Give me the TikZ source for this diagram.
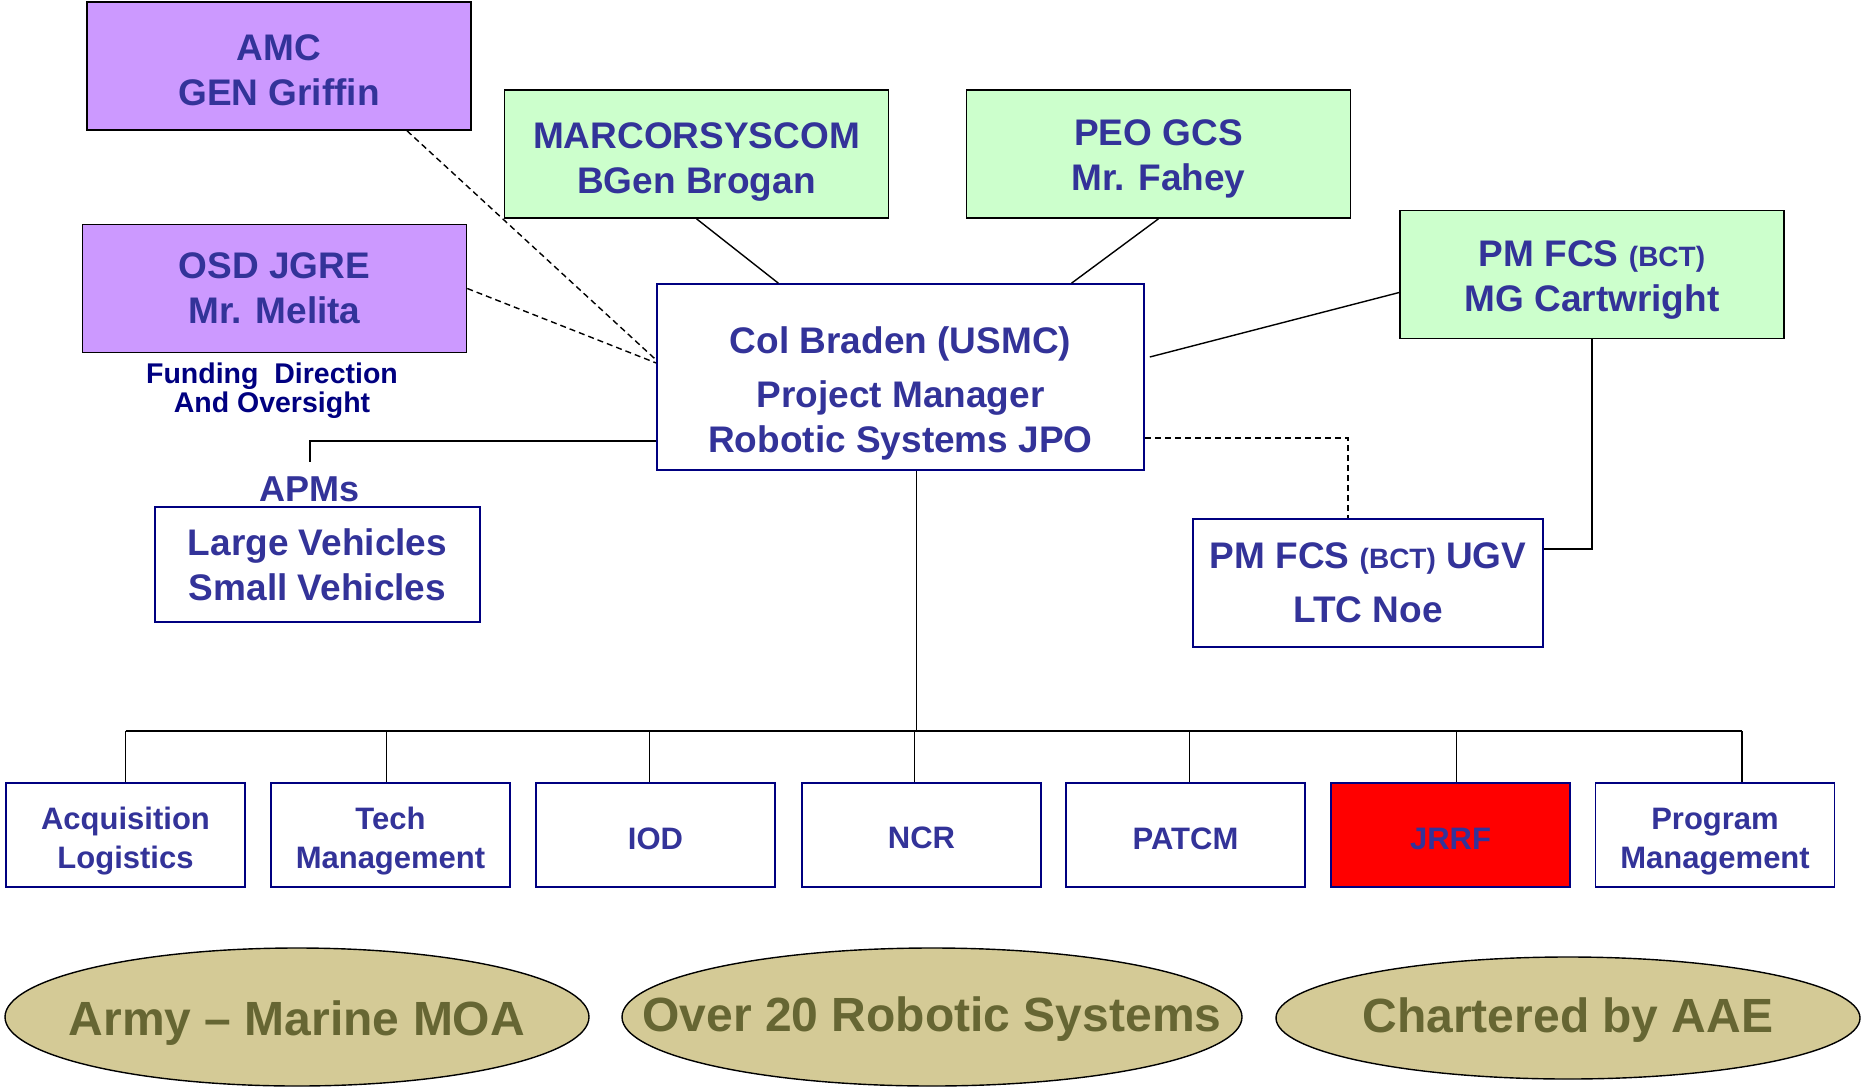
\documentclass[tikz,border=0pt]{standalone}
\usepackage{fontspec}
\setmainfont{Liberation Sans}
\usetikzlibrary{shapes.geometric,calc}
\definecolor{txtblue}{HTML}{333399}
\definecolor{navyline}{HTML}{000080}
\definecolor{boxpurple}{HTML}{CC99FF}
\definecolor{boxgreen}{HTML}{CCFFCC}
\definecolor{ovalfill}{HTML}{D4CA96}
\definecolor{ovaltext}{HTML}{666633}
\tikzset{box/.style={draw, line width=1.6pt, align=center, inner sep=0pt, text=txtblue,
      font=\bfseries\fontsize{37}{45}\selectfont},
  purplebox/.style={box, fill=boxpurple, minimum width=384pt, minimum height=128pt},
  greenbox/.style={box, fill=boxgreen, minimum width=384pt, minimum height=128pt},
  whitebox/.style={box, draw=navyline, fill=white},
  unitbox/.style={whitebox, minimum width=239pt, minimum height=104pt,
      font=\bfseries\fontsize{31}{39}\selectfont},
  oval/.style={ellipse, draw, line width=1.4pt, fill=ovalfill, inner sep=0pt},
  ovaltxt/.style={text=ovaltext, font=\bfseries\fontsize{48}{56}\selectfont},
  link/.style={line width=1.4pt},
  dotlink/.style={line width=1.4pt, dash pattern=on 6pt off 4pt}}
\newcommand{\bct}{{\fontsize{28}{45}\selectfont(BCT)}}

\begin{document}
\begin{tikzpicture}[x=1pt, y=-1pt]
    \useasboundingbox (0,0) rectangle (1865,1089);
    % top row
    \node[purplebox] (amc) at (279,66) {\rule{0pt}{35pt}AMC\\GEN Griffin};
    \node[purplebox] (osd) at (274.5,288.5) {OSD JGRE\\Mr. Melita};
    \node[greenbox] (marcor) at (696.5,154) {\rule{0pt}{42pt}MARCORSYSCOM\\BGen Brogan};
    \node[greenbox] (peo) at (1158.5,154) {\rule{0pt}{35pt}PEO GCS\\Mr. Fahey};
    \node[greenbox] (pmfcs) at (1592,274.5) {\rule{0pt}{36pt}PM FCS \bct\\MG Cartwright};
    \node[align=center, text=navyline, font=\bfseries\fontsize{28.5}{29}\selectfont] (funding) at (272,391)
        {Funding\ \ Direction\\And Oversight};
    % middle
    \node[whitebox, minimum width=487pt, minimum height=186pt] (pm) at (900.5,377)
        {\rule{0pt}{60pt}Col Braden (USMC)\\[9pt]Project Manager\\Robotic Systems JPO};
    \node[text=txtblue, font=\bfseries\fontsize{36}{45}\selectfont] (apms) at (310,489) {APMs};
    \node[whitebox, minimum width=325pt, minimum height=115pt] (apm) at (317.5,564.5)
        {Large Vehicles\\Small Vehicles};
    \node[whitebox, minimum width=350pt, minimum height=128pt] (ugv) at (1368,583)
        {PM FCS \bct{} UGV\\[9pt]LTC Noe};
    % bottom row
    \node[unitbox] (acq) at (125.5,835) {\rule{0pt}{34pt}Acquisition\\Logistics};
    \node[unitbox] (tech) at (390.5,835) {\rule{0pt}{34pt}Tech\\Management};
    \node[unitbox] (iod) at (655.5,835) {\rule{0pt}{29pt}IOD};
    \node[unitbox] (ncr) at (921.5,835) {\rule{0pt}{28pt}NCR};
    \node[unitbox] (patcm) at (1185.5,835) {\rule{0pt}{29pt}PATCM};
    \node[unitbox, fill=red] (jrrf) at (1450.5,835) {\rule{0pt}{29pt}JRRF};
    \node[unitbox] (prog) at (1715,835) {\rule{0pt}{34pt}Program\\Management};
    \node[oval, minimum width=584pt, minimum height=138pt,
        label={[ovaltxt, yshift=-6pt]center:Army -- Marine MOA}] (moa) at (297,1017) {};
    \node[oval, minimum width=620pt, minimum height=138pt,
        label={[ovaltxt, yshift=-2pt]center:Over 20 Robotic Systems}] (over) at (932,1017) {};
    \node[oval, minimum width=584pt, minimum height=122pt,
        label={[ovaltxt, yshift=-2pt]center:Chartered by AAE}] (aae) at (1568,1018) {};

    \coordinate (bus) at (0,731);
    \coordinate (apmtick) at (310,462);
    \draw[dotlink] ([xshift=128pt]amc.south) -- ([yshift=17pt]pm.west);
    \draw[dotlink] (osd.east) -- ([yshift=14pt]pm.west);
    \draw[link] (marcor.south) -- ($(pm.north west)!0.25!(pm.north east)$);
    \draw[link] (peo.south) -- ($(pm.north west)!0.85!(pm.north east)$);
    \draw[link] ([xshift=5pt, yshift=20pt]pm.east) -- ([yshift=-18pt]pmfcs.west);
    \draw[link] ([yshift=-64pt]pm.west) -| (apmtick);
    \draw[dotlink] ([yshift=-61pt]pm.east) -| ([xshift=-20pt]ugv.north);
    \draw[link] (pmfcs.south) |- ([yshift=34pt]ugv.east);
    \draw[link] ([xshift=16pt]pm.south) -- ([xshift=16pt]pm.south |- bus);
    \draw[link] (acq.north |- bus) -- ([xshift=27pt]prog.north |- bus);
    \foreach \b/\dx in {acq/0,tech/-4,iod/-6,ncr/-7,patcm/4,jrrf/6,prog/27}
        \draw[link] ([xshift=\dx pt]\b.north) -- ([xshift=\dx pt]\b.north |- bus);
\end{tikzpicture}
\end{document}
